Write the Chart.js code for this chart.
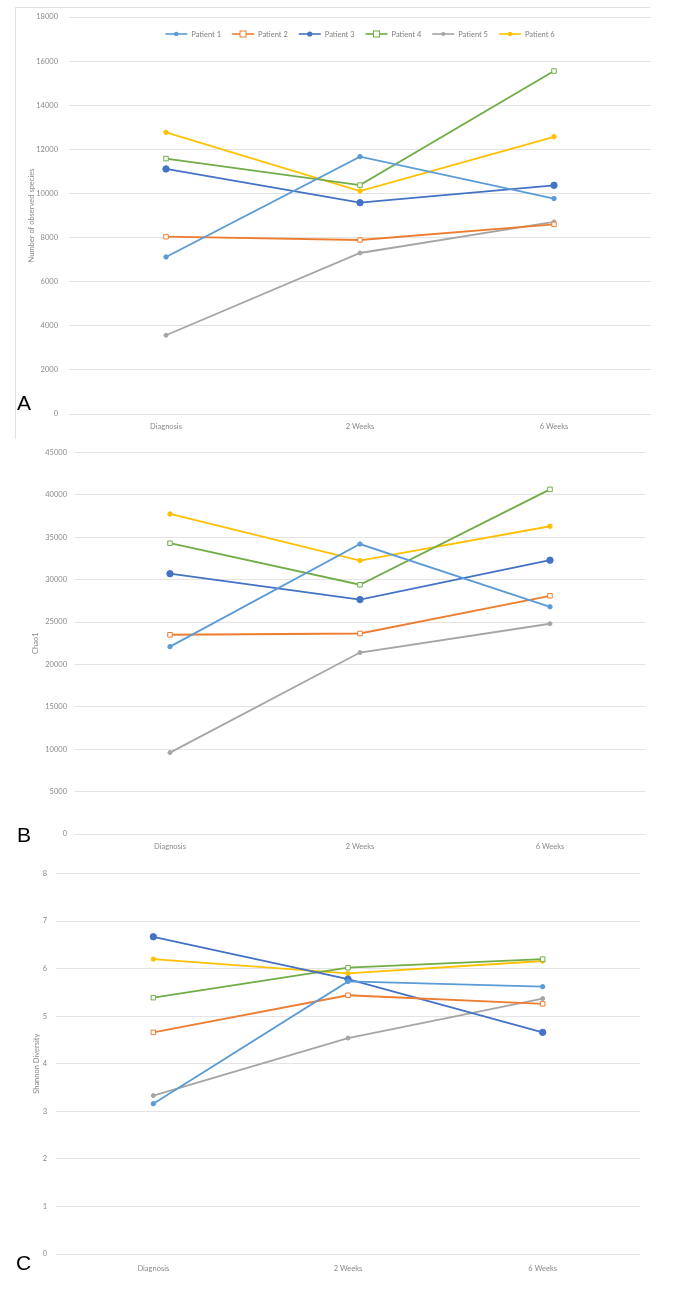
<!DOCTYPE html>
<html>
<head>
<meta charset="utf-8">
<script src="https://cdn.jsdelivr.net/npm/chart.js@4.4.1/dist/chart.umd.min.js"></script>
<style>
  html,body{margin:0;padding:0;background:#fff;}
  body{width:676px;height:1289px;position:relative;overflow:hidden;font-family:Lato,"Liberation Sans",sans-serif;}
  .letter{position:absolute;font-family:"Liberation Sans",Arial,sans-serif;font-size:21px;color:#000;line-height:1;}
  .frame{position:absolute;border-left:1px solid #e2e2e2;border-top:1px solid #e2e2e2;}
</style>
</head>
<body>
<div class="frame" style="left:15px;top:7px;width:634px;height:431px;"></div>
<div style="position:absolute;left:0;top:0;width:676px;height:440px;"><canvas id="cA" width="676" height="440"></canvas></div>
<div style="position:absolute;left:0;top:440px;width:676px;height:420px;"><canvas id="cB" width="676" height="420"></canvas></div>
<div style="position:absolute;left:0;top:860px;width:676px;height:429px;"><canvas id="cC" width="676" height="429"></canvas></div>
<div class="letter" style="left:17px;top:392px;">A</div>
<div class="letter" style="left:17px;top:824px;">B</div>
<div class="letter" style="left:16px;top:1252px;">C</div>
<script>
const categories = ['Diagnosis', '2 Weeks', '6 Weeks'];
const patientNames = ['Patient 1', 'Patient 2', 'Patient 3', 'Patient 4', 'Patient 5', 'Patient 6'];

// Panel A: Number of observed species
const observedP1 = [7120, 11670, 9770];
const observedP2 = [8040, 7890, 8600];
const observedP3 = [11110, 9580, 10370];
const observedP4 = [11580, 10380, 15550];
const observedP5 = [3570, 7300, 8710];
const observedP6 = [12770, 10110, 12570];

// Panel B: Chao1
const chaoP1 = [22100, 34200, 26800];
const chaoP2 = [23500, 23650, 28100];
const chaoP3 = [30700, 27650, 32300];
const chaoP4 = [34300, 29400, 40650];
const chaoP5 = [9600, 21400, 24800];
const chaoP6 = [37750, 32250, 36300];

// Panel C: Shannon Diversity
const shannonP1 = [3.16, 5.73, 5.62];
const shannonP2 = [4.66, 5.44, 5.26];
const shannonP3 = [6.67, 5.78, 4.66];
const shannonP4 = [5.39, 6.02, 6.20];
const shannonP5 = [3.33, 4.54, 5.37];
const shannonP6 = [6.20, 5.90, 6.16];

const ticksA = {min: 0, max: 18000, step: 2000};
const ticksB = {min: 0, max: 45000, step: 5000};
const ticksC = {min: 0, max: 8, step: 1};

const colors = ['#5B9BD5', '#ED7D31', '#4472C4', '#70AD47', '#A5A5A5', '#FFC000'];
const markerStyles = [
  {style: 'circle', r: 2.2, fill: true},
  {style: 'rect', r: 3.2, fill: false},
  {style: 'circle', r: 3.2, fill: true},
  {style: 'rect', r: 3.2, fill: false},
  {style: 'circle', r: 2.0, fill: true},
  {style: 'circle', r: 2.2, fill: true}
];

const FONT = 'Lato, "Liberation Sans", sans-serif';
Chart.defaults.font.family = FONT;
Chart.defaults.animation = false;

// Horizontal legend drawn inside the plot area (Excel style: line + marker)
const insideLegend = {
  id: 'insideLegend',
  afterDatasetsDraw(chart, args, opts) {
    if (!opts || !opts.show) return;
    const g = chart.ctx;
    const area = chart.chartArea;
    g.save();
    g.font = '7.5px ' + FONT;
    const iconW = 22, gapIcon = 4, gapItem = 11;
    const items = chart.data.datasets.map((ds, i) => ({ds, i, tw: g.measureText(ds.label).width}));
    const total = items.reduce((s, it) => s + iconW + gapIcon + it.tw, 0) + gapItem * (items.length - 1);
    let x = (area.left + area.right) / 2 - total / 2;
    const y = opts.y;
    items.forEach(it => {
      const c = colors[it.i], m = markerStyles[it.i];
      g.strokeStyle = c; g.lineWidth = 1.6;
      g.beginPath(); g.moveTo(x, y); g.lineTo(x + iconW, y); g.stroke();
      g.lineWidth = 1;
      g.fillStyle = m.fill ? c : '#fff';
      if (m.style === 'rect') {
        g.fillRect(x + 8, y - 3, 6, 6); g.strokeRect(x + 8, y - 3, 6, 6);
      } else {
        g.beginPath(); g.arc(x + 11, y, Math.min(m.r, 2.6), 0, Math.PI * 2); g.fill();
      }
      g.fillStyle = '#7f7f7f';
      g.textBaseline = 'middle';
      g.textAlign = 'left';
      g.fillText(it.ds.label, x + iconW + gapIcon, y + 0.5);
      x += iconW + gapIcon + it.tw + gapItem;
    });
    g.restore();
  }
};
Chart.register(insideLegend);

function makeDatasets(series) {
  return series.map((vals, i) => ({
    label: patientNames[i],
    data: vals,
    borderColor: colors[i],
    backgroundColor: markerStyles[i].fill ? colors[i] : '#ffffff',
    pointBorderColor: colors[i],
    pointBackgroundColor: markerStyles[i].fill ? colors[i] : '#ffffff',
    pointStyle: markerStyles[i].style,
    pointRadius: markerStyles[i].r,
    pointBorderWidth: 1,
    borderWidth: 1.8,
    tension: 0,
    fill: false
  }));
}

function makeChart(id, series, tk, cfg) {
  const ctx = document.getElementById(id);
  return new Chart(ctx, {
    type: 'line',
    data: {labels: categories, datasets: makeDatasets(series)},
    options: {
      responsive: false,
      animation: false,
      layout: {padding: {top: cfg.padTop, right: cfg.padRight, bottom: 0, left: 0}},
      plugins: {
        tooltip: {enabled: false},
        legend: {display: false},
        insideLegend: {show: cfg.legend, y: cfg.legendY}
      },
      scales: {
        x: {
          offset: true,
          grid: {display: false, drawTicks: false},
          border: {display: false},
          ticks: {color: '#8a8a8a', font: {size: 7.5}, padding: cfg.xPad, maxRotation: 0},
          afterFit: (s) => { s.height = cfg.xHeight; }
        },
        y: {
          min: tk.min, max: tk.max,
          grid: {color: '#e4e4e4', lineWidth: 1, drawTicks: false},
          border: {display: false},
          ticks: {stepSize: tk.step, color: '#8a8a8a', font: {size: 7.5}, padding: cfg.yPad,
                  callback: (v) => String(v)},
          title: {display: true, text: cfg.title, color: '#8a8a8a', font: {size: 7.5}, padding: {top: cfg.titlePad, bottom: 0}},
          afterFit: (s) => { s.width = cfg.yWidth; }
        }
      }
    }
  });
}

makeChart('cA', [observedP1, observedP2, observedP3, observedP4, observedP5, observedP6], ticksA,
  {padTop: 17, padRight: 25, yWidth: 69, xHeight: 26, xPad: 8, yPad: 11, title: 'Number of observed species', titlePad: 27, legend: true, legendY: 34});
makeChart('cB', [chaoP1, chaoP2, chaoP3, chaoP4, chaoP5, chaoP6], ticksB,
  {padTop: 4, padRight: 31, yWidth: 75, xHeight: 26, xPad: 8, yPad: 8, title: 'Chao1', titlePad: 31, legend: false});
makeChart('cC', [shannonP1, shannonP2, shannonP3, shannonP4, shannonP5, shannonP6], ticksC,
  {padTop: 8, padRight: 36, yWidth: 56, xHeight: 35, xPad: 10, yPad: 9, title: 'Shannon Diversity', titlePad: 32, legend: false});
</script>
</body>
</html>
